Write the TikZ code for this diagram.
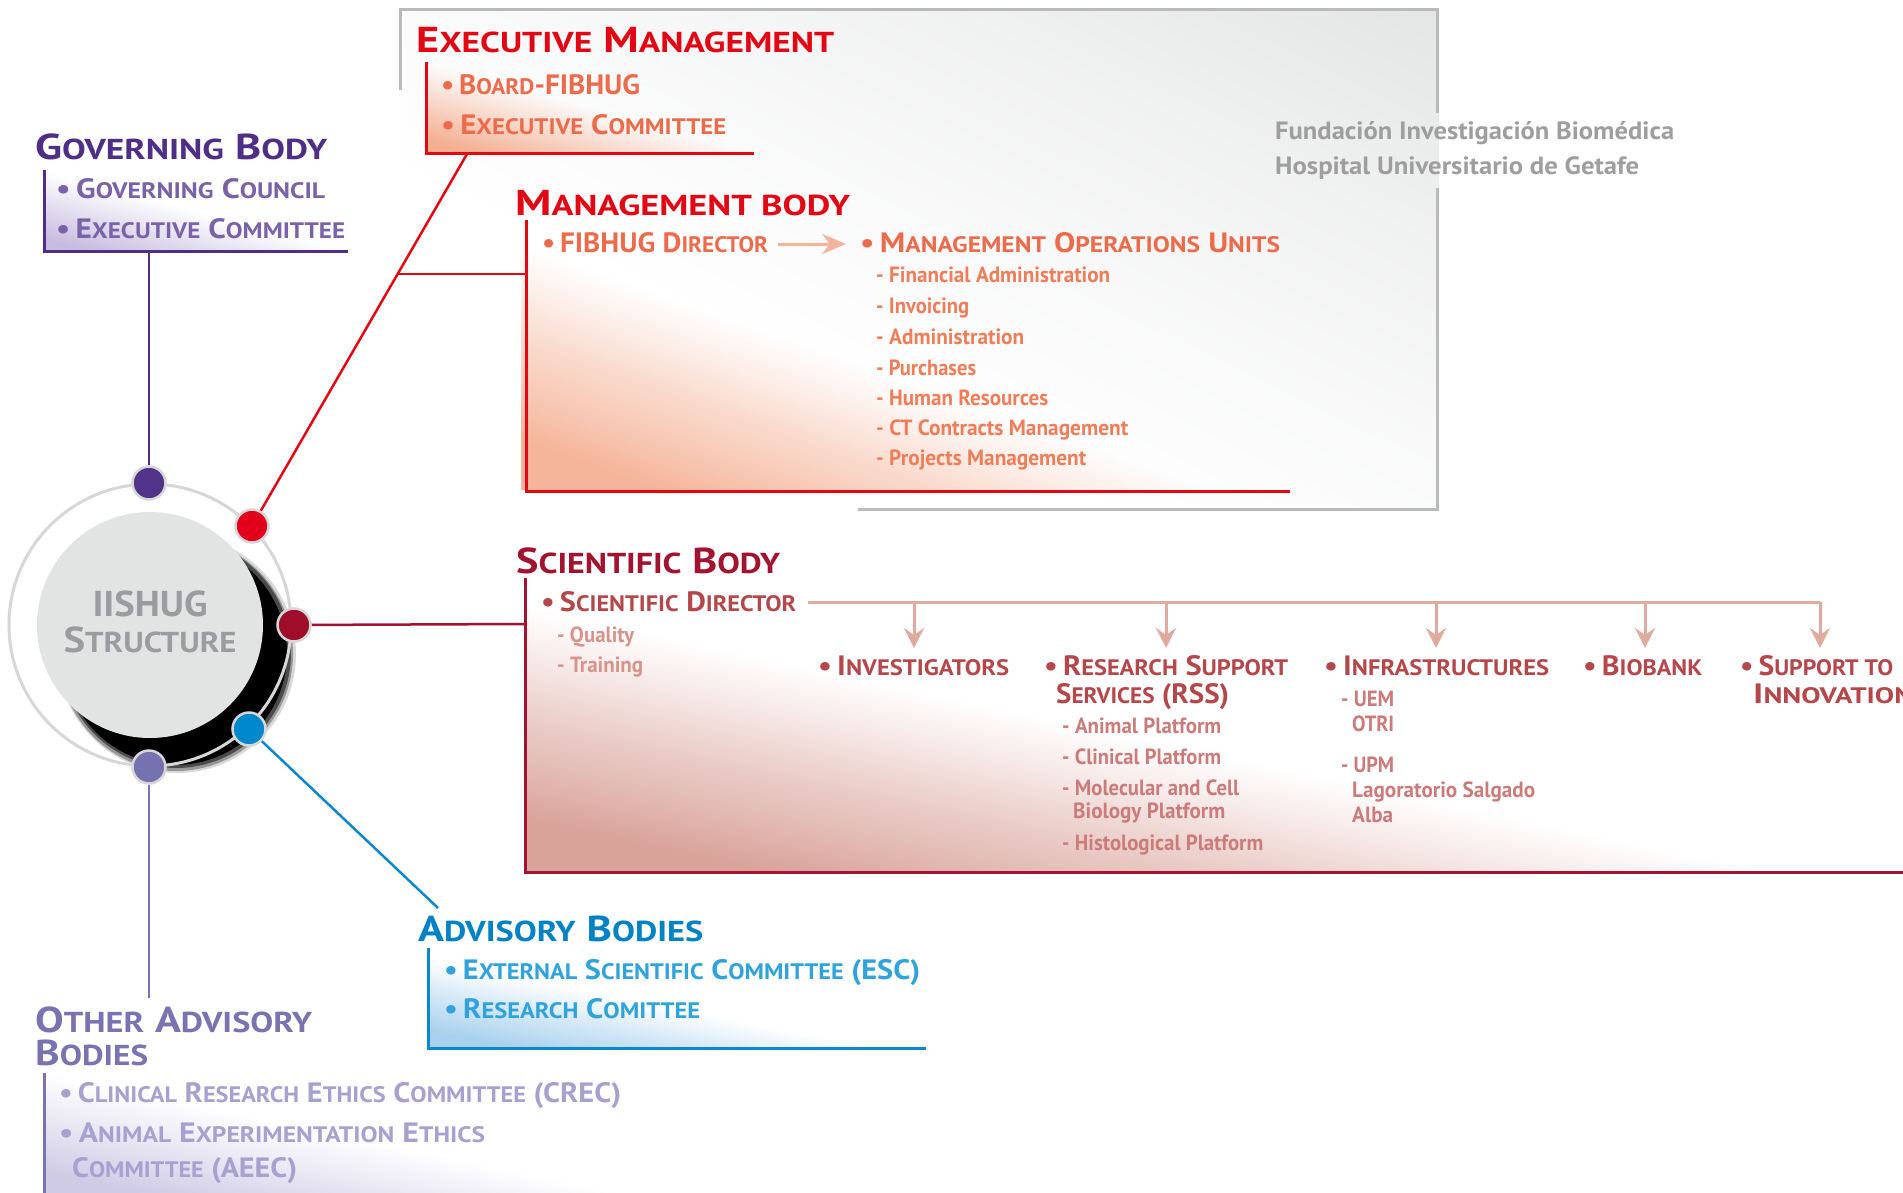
\documentclass[tikz,border=0pt]{standalone}
\usepackage{fontspec}
\setmainfont{PT Sans}
\usepackage{graphicx}
\usetikzlibrary{arrows.meta,fadings}
\newcommand\lsc[1]{\scalebox{0.8}{#1}}
\newcommand\tw[2]{\resizebox{#1pt}{\height}{#2}}
\definecolor{govC}{HTML}{4E2E86}\definecolor{govI}{HTML}{7A62A8}\definecolor{govF}{HTML}{C6BCDF}
\definecolor{exeC}{HTML}{E30613}\definecolor{exeI}{HTML}{EC6B4A}\definecolor{exeF}{HTML}{F4AE90}
\definecolor{mgS}{HTML}{EF7D58}\definecolor{mgF}{HTML}{F5B59A}\definecolor{arrM}{HTML}{F5B39C}
\definecolor{sciC}{HTML}{A3122F}\definecolor{sciI}{HTML}{B5474B}\definecolor{sciS}{HTML}{CB7B7A}
\definecolor{sciQ}{HTML}{D6938A}\definecolor{sciF}{HTML}{D9A39A}\definecolor{sciA}{HTML}{DFAB9F}
\definecolor{advC}{HTML}{0082C6}\definecolor{advI}{HTML}{2FA3DB}\definecolor{advF}{HTML}{A9D1EE}\definecolor{advL}{HTML}{0A88CC}
\definecolor{othC}{HTML}{7A73B1}\definecolor{othI}{HTML}{A7A1CF}\definecolor{othF}{HTML}{CFCAE5}
\definecolor{grayB}{HTML}{BABABA}\definecolor{grayF}{HTML}{E4E5E5}\definecolor{fundT}{HTML}{9E9E9E}
\definecolor{ringC}{HTML}{D7D7D7}\definecolor{circC}{HTML}{E2E3E3}\definecolor{circT}{HTML}{9B9C9F}
\definecolor{dotG}{HTML}{4F3488}\definecolor{dotE}{HTML}{E2001A}\definecolor{dotS}{HTML}{9E0E2B}
\definecolor{dotA}{HTML}{0088CC}\definecolor{dotO}{HTML}{7672B0}
\pgfdeclareverticalshading{fshA}{100bp}{color(0bp)=(transparent!0); color(21bp)=(transparent!0); color(27bp)=(transparent!25); color(34.1bp)=(transparent!50); color(41.2bp)=(transparent!80); color(46.5bp)=(transparent!100); color(100bp)=(transparent!100)}
\pgfdeclareverticalshading{fshB}{100bp}{color(0bp)=(transparent!0); color(19.9bp)=(transparent!0); color(28.8bp)=(transparent!30); color(37.6bp)=(transparent!60); color(50bp)=(transparent!100); color(100bp)=(transparent!100)}
\pgfdeclareverticalshading{fshC}{100bp}{color(0bp)=(transparent!0); color(14.6bp)=(transparent!0); color(32.3bp)=(transparent!50); color(46.5bp)=(transparent!80); color(60.6bp)=(transparent!100); color(100bp)=(transparent!100)}
\tikzfading[name=fadeA, shading=fshA]
\tikzfading[name=fadeB, shading=fshB]
\tikzfading[name=fadeC, shading=fshC]
\begin{document}
\begin{tikzpicture}[x=1pt,y=-1pt,
  txt/.style={anchor=base west, inner sep=0pt},
  ttl/.style={txt, font=\bfseries\fontsize{36}{36}\selectfont},
  itm/.style={txt, font=\bfseries\fontsize{28}{28}\selectfont},
  sub/.style={txt, font=\bfseries\fontsize{22}{22}\selectfont},
  boxline/.style={line width=3pt},
  conn/.style={line width=2.5pt},
  fadeboxA/.style={path fading=fadeA, fading angle=-45},
  fadeboxB/.style={path fading=fadeB, fading angle=-45},
  dot/.style={circle, minimum size=33pt, inner sep=0pt, draw=ringC, line width=2.5pt},
  arr/.style={draw=sciA, line width=3pt, -{Stealth[length=20pt,width=20pt,inset=7pt]}},
]
\clip (0,0) rectangle (1903,1193);
\fill[white] (0,0) rectangle (1903,1193);
% gray frame
\fill[grayF, path fading=fadeC, fading angle=135] (400,10) rectangle (1437,509);
\draw[grayB, line width=3pt] (400,90) -- (400,10) -- (1437,10) -- (1437,113);
\draw[grayB, line width=3pt] (1437,188) -- (1437,509) -- (858,509);
% box fills
\fill[govF, fadeboxB] (44,170) rectangle (348,251);
\fill[exeF, fadeboxB] (426,62) rectangle (754,154);
\fill[mgF, fadeboxA] (526,220) rectangle (1290,491);
\fill[sciF, fadeboxA] (525,578) rectangle (1903,872);
\fill[advF, fadeboxA] (428,948) rectangle (926,1048);
\fill[othF, fadeboxB] (44,1073) rectangle (618,1193);
% box lines
\draw[govC, boxline] (44,170) -- (44,251) -- (348,251);
\draw[exeC, boxline] (426,62) -- (426,154) -- (754,154);
\draw[exeC, boxline] (526,220) -- (526,491) -- (1290,491);
\draw[sciC, boxline] (525,578) -- (525,872) -- (1903,872);
\draw[advL, boxline] (428,948) -- (428,1048) -- (926,1048);
\draw[othC, boxline] (44,1073) -- (44,1193);
% centre
\fill[black, opacity=0.15] (177,654) circle (119);
\fill[black, opacity=0.3] (176,654) circle (117);
\fill[black, opacity=0.5] (176,653) circle (115);
\fill[black] (175,653) circle (112);
\draw[ringC, line width=3pt] (150,625) circle (141);
\node[circle, fill=circC, minimum size=226pt, inner sep=0pt] (ctr) at (150,625) {};
\node[anchor=base, inner sep=0pt, circT, font=\bfseries\fontsize{36}{36}\selectfont] (c1) at (150,616) {\tw{115}{IISHUG}};
\node[anchor=base, inner sep=0pt, circT, font=\bfseries\fontsize{36}{36}\selectfont] (c2) at (150,652) {\tw{173}{S\lsc{TRUCTURE}}};
% connector end points
\coordinate (gB) at (149,251);
\coordinate (eB) at (467,154);
\coordinate (br) at (397.6,274);
\coordinate (mL) at (526,274);
\coordinate (sL) at (525,624);
\coordinate (aT) at (438,908);
\coordinate (oT) at (149,998);
% dots
\node[dot, fill=dotG] (dG) at (149,483) {};
\node[dot, fill=dotE] (dE) at (252,526) {};
\node[dot, fill=dotS] (dS) at (294,625) {};
\node[dot, fill=dotA] (dA) at (249,729) {};
\node[dot, fill=dotO] (dO) at (149,767) {};
\draw[govC, conn] (dG) -- (gB);
\draw[exeC, conn] (dE) -- (eB);
\draw[exeC, conn] (br) -- (mL);
\draw[sciC, conn] (dS) -- (sL);
\draw[advL, conn] (dA) -- (aT);
\draw[othC, conn] (dO) -- (oT);
% Governing body
\node[ttl, govC] (gT) at (35,160) {\tw{292}{G\lsc{OVERNING} B\lsc{ODY}}};
\node[itm, govI] (g1) at (56,198) {\tw{269}{•\,G\lsc{OVERNING} C\lsc{OUNCIL}}};
\node[itm, govI] (g2) at (56,238) {\tw{289}{•\,E\lsc{XECUTIVE} C\lsc{OMMITTEE}}};
% Executive management
\node[ttl, exeC] (eT) at (416,53) {\tw{418}{E\lsc{XECUTIVE} M\lsc{ANAGEMENT}}};
\node[itm, exeI] (e1) at (441,95) {\tw{199}{•\,B\lsc{OARD}-FIBHUG}};
\node[itm, exeI] (e2) at (441,135) {\tw{285}{•\,E\lsc{XECUTIVE} C\lsc{OMMITTEE}}};
% Management body
\node[ttl, exeC] (mT) at (515,215) {\tw{335}{M\lsc{ANAGEMENT BODY}}};
\node[itm, exeI] (m1) at (542,252) {\tw{226}{•\,FIBHUG D\lsc{IRECTOR}}};
\node[itm, exeI] (m2) at (860,252) {\tw{420}{•\,M\lsc{ANAGEMENT} O\lsc{PERATIONS} U\lsc{NITS}}};
\coordinate (aS) at (778,244);
\coordinate (aE) at (846,244);
\draw[arrM, line width=3pt, -{Stealth[length=24pt,width=20pt,inset=8pt]}] (aS) -- (aE);
\node[sub, mgS] (s1) at (876,283) {\tw{234}{- Financial Administration}};
\node[sub, mgS] (s2) at (876,313) {\tw{93}{- Invoicing}};
\node[sub, mgS] (s3) at (876,344) {\tw{148}{- Administration}};
\node[sub, mgS] (s4) at (876,375) {\tw{100}{- Purchases}};
\node[sub, mgS] (s5) at (876,405) {\tw{172}{- Human Resources}};
\node[sub, mgS] (s6) at (876,435) {\tw{252}{- CT Contracts Management}};
\node[sub, mgS] (s7) at (876,465) {\tw{210}{- Projects Management}};
% Fundacion
\node[txt, fundT, font=\bfseries\fontsize{25}{25}\selectfont] (f1) at (1275,140) {\tw{399}{Fundación Investigación Biomédica}};
\node[txt, fundT, font=\bfseries\fontsize{25}{25}\selectfont] (f2) at (1275,175) {\tw{364}{Hospital Universitario de Getafe}};
% Scientific body
\node[ttl, sciC] (sT) at (516,573) {\tw{264}{S\lsc{CIENTIFIC} B\lsc{ODY}}};
\node[itm, sciI] (sd) at (541,611) {\tw{255}{•\,S\lsc{CIENTIFIC} D\lsc{IRECTOR}}};
\node[sub, sciQ] (q1) at (557,642) {\tw{77}{- Quality}};
\node[sub, sciQ] (q2) at (557,672) {\tw{86}{- Training}};
\coordinate (sdE) at (808,602);
\coordinate (hInv) at (914,602);
\coordinate (hRss) at (1166,602);
\coordinate (hInf) at (1436,602);
\coordinate (hBio) at (1645,602);
\coordinate (hSup) at (1820,602);
\draw[sciA, line width=3pt] (sdE) -- (hSup);
\draw[arr] (hInv) -- (914,648);
\draw[arr] (hRss) -- (1166,648);
\draw[arr] (hInf) -- (1436,648);
\draw[arr] (hBio) -- (1645,648);
\draw[arr] (hSup) -- (1820,648);
\node[itm, sciI] (i1) at (818,675) {\tw{191}{•\,I\lsc{NVESTIGATORS}}};
\node[itm, sciI] (r1) at (1044,675) {\tw{244}{•\,R\lsc{ESEARCH} S\lsc{UPPORT}}};
\node[itm, sciI] (r2) at (1056,703) {\tw{173}{S\lsc{ERVICES} (RSS)}};
\node[sub, sciS] (r3) at (1062,733) {\tw{159}{- Animal Platform}};
\node[sub, sciS] (r4) at (1062,764) {\tw{159}{- Clinical Platform}};
\node[sub, sciS] (r5) at (1062,795) {\tw{177}{- Molecular and Cell}};
\node[sub, sciS] (r6) at (1073,818) {\tw{152}{Biology Platform}};
\node[sub, sciS] (r7) at (1062,850) {\tw{201}{- Histological Platform}};
\node[itm, sciI] (n1) at (1324,675) {\tw{225}{•\,I\lsc{NFRASTRUCTURES}}};
\node[sub, sciS] (n2) at (1341,706) {\tw{53}{- UEM}};
\node[sub, sciS] (n3) at (1352,731) {\tw{42}{OTRI}};
\node[sub, sciS] (n4) at (1341,772) {\tw{53}{- UPM}};
\node[sub, sciS] (n5) at (1352,797) {\tw{183}{Lagoratorio Salgado}};
\node[sub, sciS] (n6) at (1352,822) {\tw{41}{Alba}};
\node[itm, sciI] (b1) at (1583,675) {\tw{119}{•\,B\lsc{IOBANK}}};
\node[itm, sciI] (u1) at (1740,675) {\tw{153}{•\,S\lsc{UPPORT TO}}};
\node[itm, sciI] (u2) at (1753,703) {\tw{160}{I\lsc{NNOVATION}}};
% Advisory
\node[ttl, advC] (aTt) at (418,941) {\tw{285}{A\lsc{DVISORY} B\lsc{ODIES}}};
\node[itm, advI] (a1) at (444,979) {\tw{476}{•\,E\lsc{XTERNAL} S\lsc{CIENTIFIC} C\lsc{OMMITTEE} (ESC)}};
\node[itm, advI] (a2) at (444,1018) {\tw{256}{•\,R\lsc{ESEARCH} C\lsc{OMITTEE}}};
% Other advisory
\node[ttl, othC] (oT1) at (35,1032) {\tw{277}{O\lsc{THER} A\lsc{DVISORY}}};
\node[ttl, othC] (oT2) at (35,1065) {\tw{113}{B\lsc{ODIES}}};
\node[itm, othI] (o1) at (59,1102) {\tw{562}{•\,C\lsc{LINICAL} R\lsc{ESEARCH} E\lsc{THICS} C\lsc{OMMITTEE} (CREC)}};
\node[itm, othI] (o2) at (59,1142) {\tw{426}{•\,A\lsc{NIMAL} E\lsc{XPERIMENTATION} E\lsc{THICS}}};
\node[itm, othI] (o3) at (72,1177) {\tw{225}{C\lsc{OMMITTEE} (AEEC)}};
\end{tikzpicture}
\end{document}
